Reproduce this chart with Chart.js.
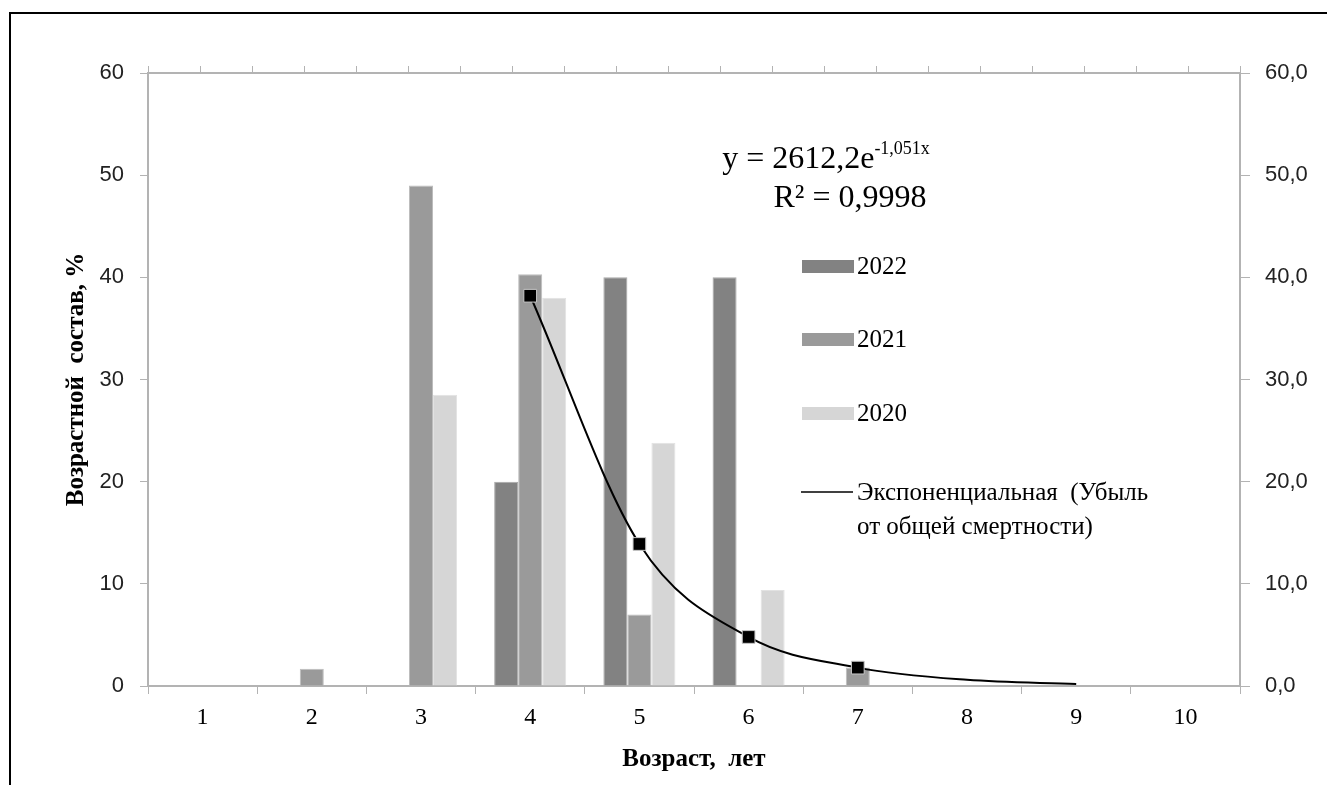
<!DOCTYPE html>
<html>
<head>
<meta charset="utf-8">
<script src="https://cdn.jsdelivr.net/npm/chart.js@4.4.0/dist/chart.umd.min.js"></script>
<style>
  body { margin: 0; background: #fff; }
</style>
</head>
<body>
<canvas id="ageChart" width="1327" height="785"></canvas>
<script>
// data
var ages = ["1", "2", "3", "4", "5", "6", "7", "8", "9", "10"];
var y2022 = [null, null, null, 20, 40, 40, null, null, null, null];
var y2021 = [null, 1.7, 49, 40.3, 7, null, 1.8, null, null, null];
var y2020 = [null, null, 28.5, 38, 23.8, 9.4, null, null, null, null];
var losses = [null, null, null, 38.2, 13.9, 4.8, 1.8, null, null, null];
var trend = [null, null, null, 38.2, 13.9, 4.8, 1.8, 0.6, 0.2, null];
var yMin = 0, yMax = 60, yStep = 10;
var equationText = "y = 2612,2e";
var equationPower = "-1,051x";
var r2Text = "R² = 0,9998";
var trendLabel = ["Экспоненциальная  (Убыль", "от общей смертности)"];

var serif = "'Liberation Serif', 'Times New Roman', serif";
var sans = "'Liberation Sans', Arial, sans-serif";
var axisGray = "#b3b3b3";

// frame + white background
var framePlugin = {
  id: 'frame',
  beforeDraw: function(chart) {
    var c = chart.ctx;
    c.save();
    c.fillStyle = '#fff';
    c.fillRect(0, 0, chart.width, chart.height);
    c.strokeStyle = '#000';
    c.lineWidth = 2;
    c.beginPath();
    c.moveTo(10, chart.height);
    c.lineTo(10, 13);
    c.lineTo(chart.width, 13);
    c.stroke();
    c.restore();
  }
};

// equation + custom legend, like the Excel one
var notesPlugin = {
  id: 'notes',
  afterDraw: function(chart) {
    var c = chart.ctx;
    c.save();
    c.fillStyle = '#000';
    c.textBaseline = 'middle';

    // trendline equation
    c.font = '32px ' + serif;
    var w1 = c.measureText(equationText).width;
    c.font = '18px ' + serif;
    var w2 = c.measureText(equationPower).width;
    var ex = 826 - (w1 + w2) / 2;
    c.textAlign = 'left';
    c.font = '32px ' + serif;
    c.fillText(equationText, ex, 160);
    c.font = '18px ' + serif;
    c.fillText(equationPower, ex + w1, 149);
    c.font = '32px ' + serif;
    c.textAlign = 'center';
    c.fillText(r2Text, 850, 199);

    // legend
    c.textAlign = 'left';
    c.font = '25px ' + serif;
    var rows = [266, 339, 413];
    for (var i = 0; i < 3; i++) {
      var ds = chart.data.datasets[i];
      c.fillStyle = ds.backgroundColor;
      c.fillRect(802, rows[i] - 6, 52, 13);
      c.fillStyle = '#000';
      c.fillText(ds.label, 857, rows[i] + 1);
    }
    c.strokeStyle = '#000';
    c.lineWidth = 1.5;
    c.beginPath();
    c.moveTo(801, 492);
    c.lineTo(853, 492);
    c.stroke();
    c.fillText(trendLabel[0], 857, 493);
    c.fillText(trendLabel[1], 857, 527);
    c.restore();
  }
};

var ctx = document.getElementById("ageChart").getContext('2d');
var ageChart = new Chart(ctx, {
  type: 'bar',
  data: {
    labels: ages,
    datasets: [
      {
        label: "2022",
        data: y2022,
        backgroundColor: "#828282",
        borderColor: "#a8a8a8",
        borderWidth: 1,
        order: 2
      },
      {
        label: "2021",
        data: y2021,
        backgroundColor: "#9a9a9a",
        borderColor: "#bdbdbd",
        borderWidth: 1,
        order: 2
      },
      {
        label: "2020",
        data: y2020,
        backgroundColor: "#d6d6d6",
        borderColor: "#e2e2e2",
        borderWidth: 1,
        order: 2
      },
      {
        type: 'line',
        label: "Экспоненциальная (Убыль от общей смертности)",
        data: trend,
        yAxisID: 'y2',
        borderColor: "#000",
        borderWidth: 2,
        pointRadius: 0,
        cubicInterpolationMode: 'monotone',
        order: 1
      },
      {
        type: 'line',
        label: "Убыль от общей смертности",
        data: losses,
        yAxisID: 'y2',
        showLine: false,
        pointStyle: 'rect',
        pointRadius: 9,
        pointBackgroundColor: "#000",
        pointBorderColor: "#c8c8c8",
        pointBorderWidth: 1,
        order: 0
      }
    ]
  },
  options: {
    responsive: false,
    animation: false,
    layout: { padding: 0 },
    categoryPercentage: 0.66,
    barPercentage: 1.0,
    plugins: {
      legend: { display: false },
      tooltip: { enabled: false }
    },
    scales: {
      x: {
        position: 'bottom',
        grid: { drawOnChartArea: false, color: axisGray, tickLength: 8 },
        border: { color: axisGray, width: 2 },
        ticks: { color: '#000', font: { family: serif, size: 24 }, padding: 9 },
        title: {
          display: true,
          text: "Возраст,  лет",
          color: '#000',
          font: { family: serif, size: 25, weight: 'bold' },
          padding: { top: 0, bottom: 10 }
        },
        afterFit: function(s) { s.height = 99; }
      },
      x2: {
        type: 'linear',
        position: 'top',
        min: 0,
        max: 20,
        grid: { drawOnChartArea: false, color: axisGray, tickLength: 7 },
        border: { color: axisGray, width: 2 },
        ticks: { display: false, stepSize: 1, maxTicksLimit: 30 },
        afterFit: function(s) { s.height = 73; }
      },
      y: {
        position: 'left',
        min: yMin,
        max: yMax,
        grid: { drawOnChartArea: false, color: axisGray, tickLength: 8 },
        border: { color: axisGray, width: 2 },
        ticks: { stepSize: yStep, color: '#222', font: { family: sans, size: 22 }, padding: 16 },
        title: {
          display: true,
          text: "Возрастной  состав, %",
          color: '#000',
          font: { family: serif, size: 25, weight: 'bold' },
          padding: { top: 62, bottom: 0 }
        },
        afterFit: function(s) { s.width = 148; }
      },
      y2: {
        position: 'right',
        min: yMin,
        max: yMax,
        grid: { drawOnChartArea: false, color: axisGray, tickLength: 10 },
        border: { color: axisGray, width: 2 },
        ticks: {
          stepSize: yStep,
          color: '#222',
          font: { family: sans, size: 22 },
          padding: 15,
          callback: function(v) { return v.toFixed(1).replace('.', ','); }
        },
        afterFit: function(s) { s.width = 87; }
      }
    }
  },
  plugins: [framePlugin, notesPlugin]
});
</script>
</body>
</html>
